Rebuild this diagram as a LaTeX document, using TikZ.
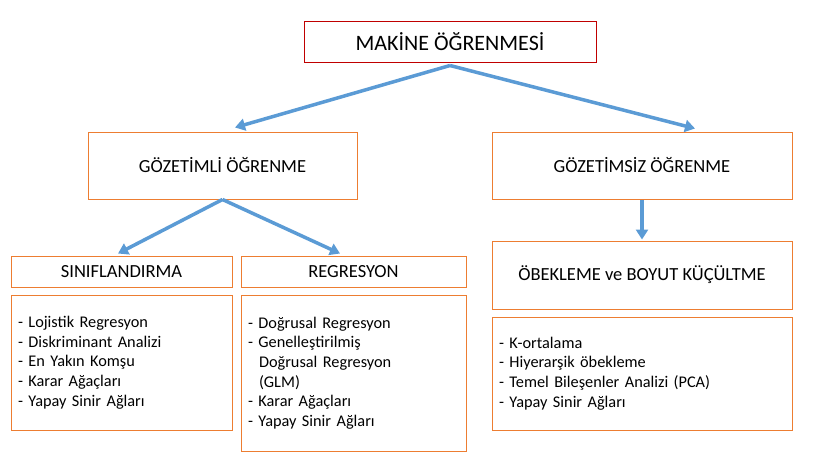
\documentclass[tikz,border=0pt]{standalone}
\usepackage{fontspec}
\setmainfont{Carlito}
\usetikzlibrary{arrows.meta,calc}
\definecolor{obox}{HTML}{ED7D31}
\definecolor{rbox}{HTML}{C00000}
\definecolor{arr}{HTML}{5B9BD5}
\tikzset{
  boxo/.style={draw=obox, line width=1pt, rectangle, inner sep=0pt, align=center,
    font=\fontsize{18.5}{22}\selectfont},
  boxr/.style={draw=rbox, line width=1pt, rectangle, inner sep=0pt, align=center,
    font=\fontsize{22}{26}\selectfont},
  listbox/.style={draw=obox, line width=1pt, rectangle, inner xsep=7pt, inner ysep=0pt,
    align=left, font=\fontsize{16.3}{19.7}\selectfont},
  conn/.style={draw=arr, line width=3.5pt, -{Triangle[length=10pt,width=12pt]}},
}
\begin{document}
\begin{tikzpicture}[x=1pt,y=-1pt]
\useasboundingbox (0,0) rectangle (826,469);
\node[boxr, minimum width=292pt, minimum height=41pt] (top) at (450,41.5) {MAKİNE ÖĞRENMESİ};
\node[boxo, minimum width=269pt, minimum height=67pt] (sup) at (222.5,165.5) {GÖZETİMLİ ÖĞRENME};
\node[boxo, minimum width=300pt, minimum height=67pt] (unsup) at (642,165.5) {GÖZETİMSİZ ÖĞRENME};
\node[boxo, minimum width=300pt, minimum height=68pt] (clus) at (642,275) {ÖBEKLEME ve BOYUT KÜÇÜLTME};
\node[boxo, minimum width=221pt, minimum height=31pt] (cls) at (121.5,271.5) {SINIFLANDIRMA};
\node[boxo, minimum width=225pt, minimum height=31pt] (reg) at (353.5,271.5) {REGRESYON};
\node[listbox, text width=207pt, minimum height=135pt] (clslist) at (121.5,362.5)
  {- Lojistik Regresyon\\- Diskriminant Analizi\\- En Yakın Komşu\\- Karar Ağaçları\\- Yapay Sinir Ağları};
\node[listbox, text width=211pt, minimum height=156pt] (reglist) at (353.5,373)
  {- Doğrusal Regresyon\\- Genelleştirilmiş\\\hspace*{11pt}Doğrusal Regresyon\\\hspace*{11pt}(GLM)\\- Karar Ağaçları\\- Yapay Sinir Ağları};
\node[listbox, text width=286pt, minimum height=113pt] (cluslist) at (642,373.5)
  {- K-ortalama\\- Hiyerarşik öbekleme\\- Temel Bileşenler Analizi (PCA)\\- Yapay Sinir Ağları};
\draw[conn] ([yshift=-3pt]top.south) -- ([xshift=12.5pt,yshift=4pt]sup.north);
\draw[conn] ([yshift=-3pt]top.south) -- ([xshift=53pt,yshift=3pt]unsup.north);
\draw[conn] (sup.south) -- ([xshift=-3.5pt,yshift=2pt]cls.north);
\draw[conn] (sup.south) -- ([xshift=-13.5pt,yshift=2pt]reg.north);
\draw[conn] (unsup.south) -- ([yshift=1pt]clus.north);
\end{tikzpicture}
\end{document}
